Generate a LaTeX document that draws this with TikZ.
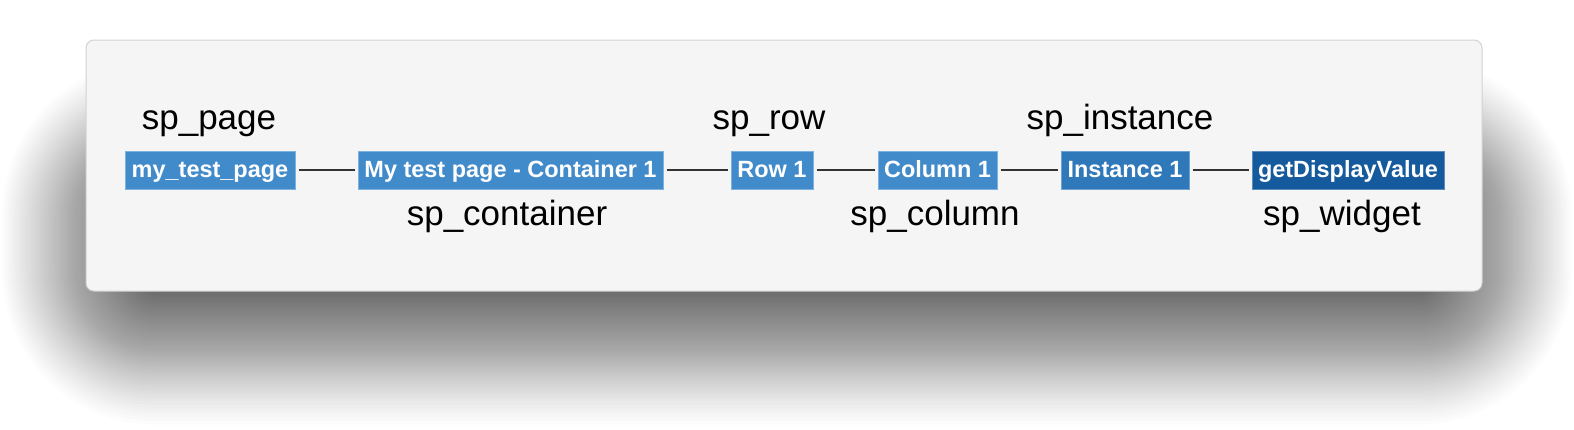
\documentclass[tikz,border=0pt]{standalone}
\usepackage{fontspec}
\setmainfont{Liberation Sans}
\definecolor{cardfill}{HTML}{F5F5F5}
\definecolor{cardline}{HTML}{D2D2D2}
\definecolor{boxblue}{HTML}{428BCA}
\definecolor{boxline}{HTML}{7DB1DE}
\definecolor{instblue}{HTML}{2F78BA}
\definecolor{instline}{HTML}{6FA3D3}
\definecolor{widgblue}{HTML}{155A9C}
\definecolor{widgline}{HTML}{5C8CBD}
\definecolor{linkc}{HTML}{333333}
\tikzset{
  tbox/.style={rectangle, fill=boxblue, draw=boxline, line width=0.75pt,
    text=white, inner sep=0pt, minimum height=28.5pt,
    font=\fontsize{17.6pt}{17.6pt}\selectfont\bfseries,
    text height=14.25pt, text depth=3.75pt},
  lbl/.style={anchor=base, inner sep=0pt, text=black,
    font=\fontsize{26.25pt}{26.25pt}\selectfont},
  link/.style={draw=linkc, line width=1.5pt, shorten >=2.25pt, shorten <=2.25pt}
}
\begin{document}
\begin{tikzpicture}[x=0.75pt, y=-0.75pt]
\useasboundingbox (0,0) rectangle (1574,429);
\fill[white] (0,0) rectangle (1574,429);
% shadow
\foreach \i in {1,...,60}{
  \pgfmathsetmacro\dx{150*(\i/60)}
  \pgfmathsetmacro\dy{140*(\i/60)^(0.8)}
  \pgfmathsetmacro\r{(155-\dx)*0.75}
  \fill[black, opacity=0.0105, rounded corners=\r pt]
    ({0+\dx},{55+\dy}) rectangle ({1574-\dx},{430-\dy});
}
% card
\draw[fill=cardfill, draw=cardline, line width=0.75pt, rounded corners=6pt]
  (86,40) rectangle (1482,291);
% boxes
\node[tbox, minimum width=127.5pt] (b1) at (210,170) {my\_test\_page};
\node[tbox, minimum width=228.75pt] (b2) at (510.5,170) {My test page - Container 1};
\node[tbox, minimum width=61.5pt] (b3) at (772,170) {Row 1};
\node[tbox, minimum width=89.25pt] (b4) at (937.5,170) {Column 1};
\node[tbox, minimum width=96pt, fill=instblue, draw=instline] (b5) at (1125,170) {Instance 1};
\node[tbox, minimum width=144pt, fill=widgblue, draw=widgline] (b6) at (1348,170) {getDisplayValue};
% links
\draw[link] (b1.east) -- (b2.west);
\draw[link] (b2.east) -- (b3.west);
\draw[link] (b3.east) -- (b4.west);
\draw[link] (b4.east) -- (b5.west);
\draw[link] (b5.east) -- (b6.west);
% labels
\node[lbl] (l1) at (209,129) {sp\_page};
\node[lbl] (l2) at (507,225) {sp\_container};
\node[lbl] (l3) at (769,129) {sp\_row};
\node[lbl] (l4) at (935,225) {sp\_column};
\node[lbl] (l5) at (1120,129) {sp\_instance};
\node[lbl] (l6) at (1342,225) {sp\_widget};
\end{tikzpicture}
\end{document}
